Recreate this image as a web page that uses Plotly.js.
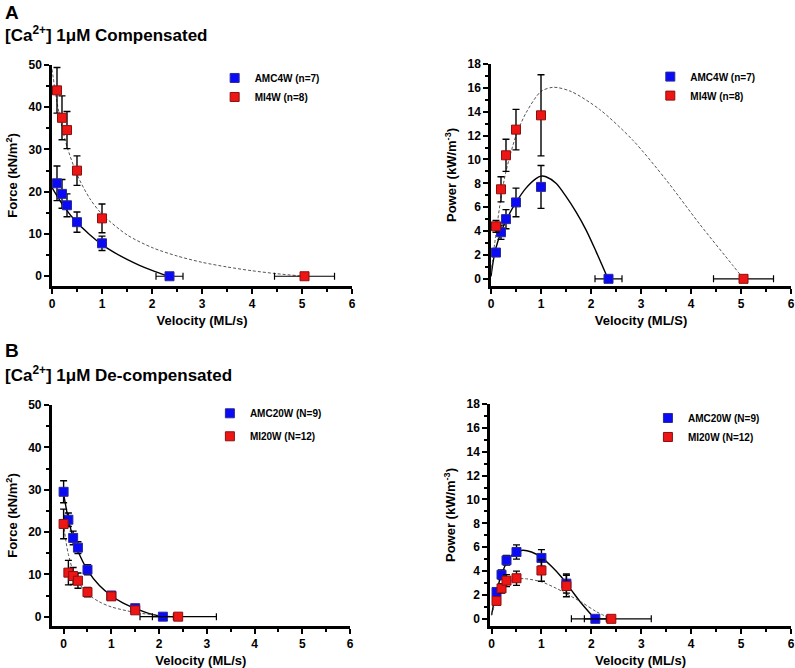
<!DOCTYPE html>
<html>
<head>
<meta charset="utf-8">
<script src="https://cdn.plot.ly/plotly-3.0.1.min.js"></script>
<style>html,body{margin:0;padding:0;background:#fff;}#chart{width:795px;height:668px;}</style>
</head>
<body>
<div id="chart"></div>
<script>
// ---------- Panel A: 1 uM Compensated ----------
const aAMC_v = [0.1, 0.2, 0.3, 0.5, 1.0, 2.35];
const aAMC_vErr = [null, null, null, null, null, 0.27];
const aAMC_force = [22.0, 19.5, 16.8, 12.8, 7.8, 0];
const aAMC_forceErr = [4.1, 3.4, 2.7, 2.4, 1.7, null];
const aAMC_power = [2.2, 3.9, 5.0, 6.4, 7.7, 0];
const aAMC_powerErr = [0.3, 0.6, 0.8, 1.2, 1.8, null];

const aMI_v = [0.1, 0.2, 0.3, 0.5, 1.0, 5.05];
const aMI_vErr = [null, null, null, null, null, 0.6];
const aMI_force = [44.0, 37.5, 34.6, 25.0, 13.7, 0];
const aMI_forceErr = [5.4, 5.2, 4.4, 3.5, 3.4, null];
const aMI_power = [4.4, 7.5, 10.35, 12.5, 13.7, 0];
const aMI_powerErr = [0.5, 1.05, 1.35, 1.7, 3.4, null];

// fitted curves
const aAMC_fitForce_v = [0, 0.25, 0.5, 0.75, 1.0, 1.25, 1.5, 1.75, 2.0, 2.33];
const aAMC_fitForce = [21, 16.3, 12.7, 9.9, 7.5, 5.6, 4.0, 2.6, 1.4, 0];
const aMI_fitForce_v = [0, 0.1, 0.2, 0.3, 0.5, 0.75, 1.0, 1.5, 2.0, 2.5, 3.0, 3.5, 4.0, 4.5, 5.05];
const aMI_fitForce = [49, 41.2, 35.3, 30.7, 24.1, 18.5, 14.7, 9.8, 6.8, 4.8, 3.3, 2.2, 1.3, 0.6, 0];
const aAMC_fitPower_v = [0, 0.05, 0.1, 0.2, 0.3, 0.5, 0.7, 0.9, 1.0, 1.1, 1.3, 1.5, 1.7, 1.9, 2.1, 2.34];
const aAMC_fitPower = [0.2, 1.6, 2.6, 3.9, 4.9, 6.4, 7.6, 8.4, 8.6, 8.55, 8.0, 6.9, 5.6, 4.1, 2.3, 0];
const aMI_fitPower_v = [0, 0.1, 0.2, 0.3, 0.5, 0.7, 1.0, 1.25, 1.6, 2.17, 2.84, 3.5, 4.17, 4.84, 5.05];
const aMI_fitPower = [0.5, 3.8, 6.8, 9.0, 12.0, 13.9, 15.7, 16.05, 15.7, 14.2, 11.6, 8.3, 4.6, 1.1, 0];

// ---------- Panel B: 1 uM De-compensated ----------
const bAMC_v = [0, 0.1, 0.2, 0.3, 0.5, 1.0, 1.5, 2.08];
const bAMC_vErr = [null, null, null, null, null, null, null, 0.22];
const bAMC_force = [29.5, 22.9, 18.6, 16.3, 11.1, 5.0, 2.0, 0];
const bAMC_forceErr = [2.6, 1.6, 1.6, 1.4, 1.2, 0.5, 0.4, null];
const bMI_v = [0, 0.1, 0.2, 0.3, 0.5, 1.0, 1.5, 2.4];
const bMI_vErr = [null, null, null, null, null, null, null, 0.8];
const bMI_force = [21.9, 10.4, 9.6, 8.5, 5.8, 4.8, 1.5, 0];
const bMI_forceErr = [3.5, 2.9, 2.0, 1.8, 1.1, 0.6, 0.5, null];

const bAMC_pv = [0.1, 0.2, 0.3, 0.5, 1.0, 1.5, 2.08];
const bAMC_pvErr = [null, null, null, null, null, null, 0.22];
const bAMC_power = [2.25, 3.7, 4.9, 5.6, 5.1, 2.95, 0];
const bAMC_powerErr = [0.3, 0.4, 0.4, 0.6, 0.7, 0.8, null];
const bMI_pv = [0.1, 0.2, 0.3, 0.5, 1.0, 1.5, 2.4];
const bMI_pvErr = [null, null, null, null, null, null, 0.8];
const bMI_power = [1.5, 2.55, 3.2, 3.4, 4.05, 2.75, 0];
const bMI_powerErr = [0.3, 0.4, 0.5, 0.6, 0.9, 0.9, null];

const bAMC_fitForce_v = [0, 0.1, 0.2, 0.3, 0.5, 0.75, 1.0, 1.25, 1.5, 1.75, 2.05];
const bAMC_fitForce = [29, 23, 18.7, 15.5, 11, 7.35, 4.95, 3.2, 1.95, 0.9, 0];
const bMI_fitForce_v = [0, 0.05, 0.1, 0.2, 0.3, 0.5, 0.75, 1.0, 1.5, 2.0, 2.3];
const bMI_fitForce = [22, 17.7, 14.7, 10.7, 8.3, 5.4, 3.5, 2.3, 1.0, 0.3, 0];
const bAMC_fitPower_v = [0, 0.05, 0.1, 0.2, 0.3, 0.4, 0.5, 0.63, 0.8, 1.0, 1.2, 1.4, 1.6, 1.8, 2.07];
const bAMC_fitPower = [0.3, 1.4, 2.3, 3.7, 4.7, 5.3, 5.6, 5.75, 5.6, 5.15, 4.4, 3.5, 2.4, 1.3, 0];
const bMI_fitPower_v = [0, 0.05, 0.1, 0.2, 0.3, 0.4, 0.5, 0.7, 1.0, 1.3, 1.5, 1.8, 2.1, 2.4];
const bMI_fitPower = [0.3, 1.0, 1.6, 2.4, 2.9, 3.2, 3.35, 3.35, 3.1, 2.55, 2.1, 1.4, 0.6, 0];

// ---------- labels ----------
const legA = ['AMC4W (n=7)', 'MI4W (n=8)'];
const legB = ['AMC20W (N=9)', 'MI20W (N=12)'];

const FONT = '"Liberation Sans", Arial, sans-serif';
const BLUE = '#0a0af5', BLUE_EDGE = '#2a2a9a';
const RED = '#ee1515', RED_EDGE = '#8a1010';

function pts(x, y, ey, ex, name, color, edge, xa, ya, leg, grp) {
  return {
    type: 'scatter', mode: 'markers', x: x, y: y, name: name,
    xaxis: xa, yaxis: ya, legend: leg, legendgroup: grp, cliponaxis: false,
    marker: {symbol: 'square', size: 9, color: color, line: {color: edge, width: 1}},
    error_y: {type: 'data', array: ey, visible: true, color: '#000', thickness: 1.4, width: 3.5},
    error_x: {type: 'data', array: ex, visible: true, color: '#000', thickness: 1.2, width: 3.5}
  };
}
function fit(x, y, dashed, xa, ya) {
  return {
    type: 'scatter', mode: 'lines', x: x, y: y, xaxis: xa, yaxis: ya, showlegend: false,
    hoverinfo: 'skip',
    line: dashed ? {color: '#555', width: 1, dash: '3px,2px', shape: 'spline', smoothing: 0.8}
                 : {color: '#000', width: 1.4, shape: 'spline', smoothing: 0.8}
  };
}

const data = [
  fit(aAMC_fitForce_v, aAMC_fitForce, false, 'x', 'y'),
  fit(aMI_fitForce_v, aMI_fitForce, true, 'x', 'y'),
  pts(aAMC_v, aAMC_force, aAMC_forceErr, aAMC_vErr, legA[0], BLUE, BLUE_EDGE, 'x', 'y', 'legend', 'a1'),
  pts(aMI_v, aMI_force, aMI_forceErr, aMI_vErr, legA[1], RED, RED_EDGE, 'x', 'y', 'legend', 'a2'),

  fit(aAMC_fitPower_v, aAMC_fitPower, false, 'x2', 'y2'),
  fit(aMI_fitPower_v, aMI_fitPower, true, 'x2', 'y2'),
  pts(aAMC_v, aAMC_power, aAMC_powerErr, aAMC_vErr, legA[0], BLUE, BLUE_EDGE, 'x2', 'y2', 'legend2', 'b1'),
  pts(aMI_v, aMI_power, aMI_powerErr, aMI_vErr, legA[1], RED, RED_EDGE, 'x2', 'y2', 'legend2', 'b2'),

  fit(bAMC_fitForce_v, bAMC_fitForce, false, 'x3', 'y3'),
  fit(bMI_fitForce_v, bMI_fitForce, true, 'x3', 'y3'),
  pts(bAMC_v, bAMC_force, bAMC_forceErr, bAMC_vErr, legB[0], BLUE, BLUE_EDGE, 'x3', 'y3', 'legend3', 'c1'),
  pts(bMI_v, bMI_force, bMI_forceErr, bMI_vErr, legB[1], RED, RED_EDGE, 'x3', 'y3', 'legend3', 'c2'),

  fit(bAMC_fitPower_v, bAMC_fitPower, false, 'x4', 'y4'),
  fit(bMI_fitPower_v, bMI_fitPower, true, 'x4', 'y4'),
  pts(bAMC_pv, bAMC_power, bAMC_powerErr, bAMC_pvErr, legB[0], BLUE, BLUE_EDGE, 'x4', 'y4', 'legend4', 'd1'),
  pts(bMI_pv, bMI_power, bMI_powerErr, bMI_pvErr, legB[1], RED, RED_EDGE, 'x4', 'y4', 'legend4', 'd2')
];

const tickFont = {family: FONT, size: 12, color: '#000', weight: 700};
const titleFont = {family: FONT, size: 13, color: '#000', weight: 700};
function xax(domain, range, anchor, title) {
  return {
    domain: domain, range: range, anchor: anchor, showgrid: false, zeroline: false,
    showline: true, linecolor: '#000', linewidth: 2.5, mirror: false,
    ticks: 'outside', ticklen: 5, tickwidth: 2, tickcolor: '#000', dtick: 1, tick0: 0,
    minor: {ticks: 'outside', ticklen: 3, tickwidth: 2, tickcolor: '#000', dtick: 0.5, tick0: 0},
    tickfont: tickFont, fixedrange: true,
    title: {text: title, font: titleFont, standoff: 6}
  };
}
function yax(domain, range, anchor, title, dt, mdt) {
  return {
    domain: domain, range: range, anchor: anchor, showgrid: false, zeroline: false,
    showline: true, linecolor: '#000', linewidth: 2.5,
    ticks: 'outside', ticklen: 5, tickwidth: 2, tickcolor: '#000', dtick: dt, tick0: 0,
    minor: {ticks: 'outside', ticklen: 3, tickwidth: 2, tickcolor: '#000', dtick: mdt, tick0: 0},
    tickfont: tickFont, fixedrange: true,
    title: {text: title, font: titleFont, standoff: 8}
  };
}
function legend(x, y, gap) {
  return {x: x, y: y, xanchor: 'left', yanchor: 'top', bgcolor: 'rgba(0,0,0,0)',
    font: {family: FONT, size: 10, color: '#000', weight: 700},
    traceorder: 'grouped', tracegroupgap: gap, itemclick: false, itemdoubleclick: false};
}

const layout = {
  width: 795, height: 668,
  margin: {l: 0, r: 0, t: 0, b: 0},
  paper_bgcolor: '#fff', plot_bgcolor: '#fff',
  font: {family: FONT, color: '#000'},
  showlegend: true,
  xaxis: xax([0.0654, 0.4428], [0, 6], 'y', 'Velocity (ML/s)'),
  yaxis: yax([0.5719, 0.9027], [-2.3, 50], 'x', 'Force (kN/m<sup>2</sup>)', 10, 5),
  xaxis2: xax([0.6176, 0.9950], [0, 6], 'y2', 'Velocity (ML/S)'),
  yaxis2: yax([0.5719, 0.9042], [-0.6, 18], 'x2', 'Power (kW/m<sup>-3</sup>)', 2, 1),
  xaxis3: xax([0.0650, 0.4403], [-0.25, 6], 'y3', 'Velocity (ML/s)'),
  yaxis3: yax([0.0629, 0.3937], [-2.2, 50], 'x3', 'Force (kN/m<sup>2</sup>)', 10, 5),
  xaxis4: xax([0.6164, 0.9950], [-0.03, 6], 'y4', 'Velocity (ML/s)'),
  yaxis4: yax([0.0629, 0.3952], [-0.6, 18], 'x4', 'Power (kW/m<sup>-3</sup>)', 2, 1),
  legend: legend(0.270, 0.905, 0),
  legend2: legend(0.818, 0.907, 0),
  legend3: legend(0.264, 0.403, 4),
  legend4: legend(0.815, 0.396, 0),
  annotations: [
    {text: 'A', xref: 'paper', yref: 'paper', x: 0.004, y: 1 - 12 / 668, xanchor: 'left', yanchor: 'middle', showarrow: false,
     font: {family: FONT, size: 19, color: '#000', weight: 700}},
    {text: '[Ca<sup>2+</sup>] 1μM Compensated', xref: 'paper', yref: 'paper', x: 0.004, y: 1 - 34 / 668, xanchor: 'left', yanchor: 'middle', showarrow: false,
     font: {family: FONT, size: 17, color: '#000', weight: 700}},
    {text: 'B', xref: 'paper', yref: 'paper', x: 0.004, y: 1 - 350 / 668, xanchor: 'left', yanchor: 'middle', showarrow: false,
     font: {family: FONT, size: 19, color: '#000', weight: 700}},
    {text: '[Ca<sup>2+</sup>] 1μM De-compensated', xref: 'paper', yref: 'paper', x: 0.004, y: 1 - 374 / 668, xanchor: 'left', yanchor: 'middle', showarrow: false,
     font: {family: FONT, size: 17, color: '#000', weight: 700}}
  ]
};

Plotly.newPlot('chart', data, layout, {displayModeBar: false, staticPlot: false});
</script>
</body>
</html>
